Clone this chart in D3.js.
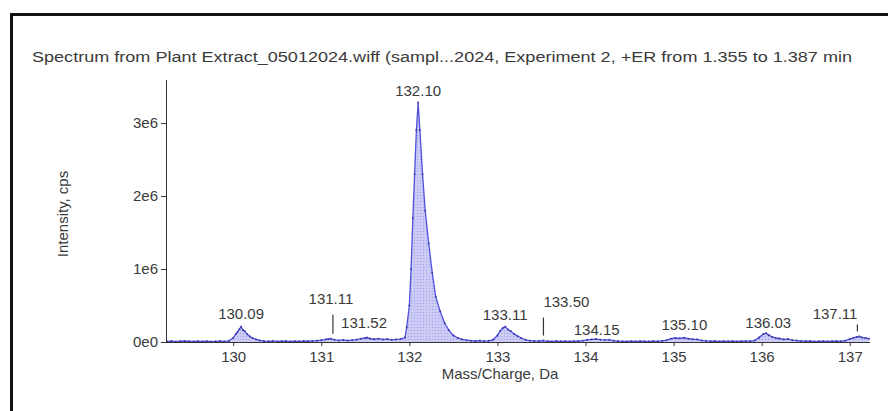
<!DOCTYPE html>
<html>
<head>
<meta charset="utf-8">
<script src="https://cdn.jsdelivr.net/npm/d3@7"></script>
<style>
    body { margin: 0; background: #fff; }
    svg { display: block; font-family: 'Liberation Sans', Arial, sans-serif; }
</style>
</head>
<body>
<svg></svg>
<script>

/*
*   Spectrum data (m/z in Da, intensity in cps)
*/

const massCharge = [
    129.25, 129.30, 129.35, 129.40, 129.45, 129.50, 129.55, 129.60, 129.65, 129.70,
    129.75, 129.80, 129.85, 129.90, 129.95, 130.00, 130.03, 130.05, 130.07, 130.09,
    130.11, 130.13, 130.16, 130.19, 130.22, 130.26, 130.30, 130.35, 130.40, 130.45,
    130.50, 130.55, 130.60, 130.65, 130.70, 130.75, 130.80, 130.85, 130.90, 130.95,
    131.00, 131.05, 131.08, 131.11, 131.15, 131.20, 131.25, 131.30, 131.35, 131.40,
    131.45, 131.50, 131.52, 131.55, 131.60, 131.65, 131.70, 131.75, 131.80, 131.85,
    131.90, 131.95, 131.97, 132.00, 132.02, 132.04, 132.06, 132.08, 132.10, 132.12,
    132.15, 132.18, 132.22, 132.26, 132.30, 132.35, 132.40, 132.45, 132.50, 132.55,
    132.60, 132.65, 132.70, 132.75, 132.80, 132.85, 132.90, 132.95, 133.00, 133.03,
    133.06, 133.09, 133.12, 133.15, 133.19, 133.23, 133.27, 133.32, 133.37, 133.42,
    133.47, 133.52, 133.57, 133.62, 133.67, 133.72, 133.77, 133.82, 133.87, 133.92,
    133.97, 134.02, 134.07, 134.12, 134.17, 134.22, 134.27, 134.32, 134.37, 134.42,
    134.47, 134.52, 134.57, 134.62, 134.67, 134.72, 134.77, 134.82, 134.87, 134.92,
    134.97, 135.02, 135.07, 135.12, 135.17, 135.22, 135.27, 135.32, 135.37, 135.42,
    135.47, 135.52, 135.57, 135.62, 135.67, 135.72, 135.77, 135.82, 135.87, 135.92,
    135.97, 136.02, 136.05, 136.08, 136.12, 136.16, 136.20, 136.25, 136.30, 136.35,
    136.40, 136.45, 136.50, 136.55, 136.60, 136.65, 136.70, 136.75, 136.80, 136.85,
    136.90, 136.95, 137.00, 137.04, 137.08, 137.11, 137.14, 137.18, 137.22
]

const intensity = [
    8000, 12000, 6000, 10000, 14000, 9000, 7000, 11000, 8000, 10000,
    6000, 9000, 12000, 8000, 15000, 55000, 110000, 140000, 175000, 210000,
    165000, 150000, 105000, 75000, 55000, 35000, 22000, 12000, 9000, 14000,
    8000, 10000, 12000, 7000, 11000, 9000, 13000, 10000, 15000, 18000,
    25000, 35000, 42000, 45000, 30000, 22000, 28000, 20000, 25000, 32000,
    45000, 55000, 60000, 48000, 38000, 45000, 35000, 40000, 30000, 35000,
    40000, 60000, 200000, 500000, 1000000, 1700000, 2300000, 2900000, 3280000, 2900000,
    2300000, 1800000, 1350000, 950000, 620000, 420000, 260000, 160000, 90000, 55000,
    35000, 25000, 18000, 14000, 20000, 12000, 16000, 30000, 90000, 150000,
    190000, 210000, 170000, 150000, 110000, 80000, 55000, 30000, 18000, 12000,
    15000, 20000, 10000, 8000, 12000, 9000, 11000, 7000, 10000, 12000,
    18000, 30000, 35000, 40000, 32000, 28000, 30000, 18000, 12000, 9000,
    8000, 11000, 7000, 10000, 9000, 8000, 12000, 9000, 14000, 25000,
    45000, 55000, 50000, 58000, 45000, 38000, 35000, 22000, 15000, 10000,
    12000, 8000, 11000, 9000, 12000, 8000, 10000, 13000, 11000, 20000,
    60000, 110000, 120000, 95000, 70000, 55000, 48000, 35000, 40000, 25000,
    20000, 14000, 10000, 12000, 8000, 9000, 11000, 7000, 10000, 12000,
    9000, 18000, 40000, 55000, 70000, 75000, 60000, 55000, 45000
]

const peakLabels = ['130.09', '131.11', '131.52', '132.10', '133.11', '133.50', '134.15', '135.10', '136.03', '137.11']
const peakMz = [130.09, 131.11, 131.52, 132.10, 133.11, 133.50, 134.15, 135.10, 136.03, 137.11]

const xTicks = [130, 131, 132, 133, 134, 135, 136, 137]
const yTicks = [0, 1e6, 2e6, 3e6]
const yTickLabels = ['0e0', '1e6', '2e6', '3e6']

const TITLE = 'Spectrum from Plant Extract_05012024.wiff (sampl...2024, Experiment 2, +ER from 1.355 to 1.387 min'


/*
*   Constants
*/

const CANVAS_WIDTH = 888
const CANVAS_HEIGHT = 411
const PLOT = { left: 166, right: 870, top: 80, bottom: 342 }
const TEXT_COLOR = '#3a3a3a'
const LINE_COLOR = '#5050dc'
const FILL_COLOR = '#cbcbf6'
const FONT_SIZE = 15

// how each peak label sits relative to its peak: lift, horizontal nudge, anchor, leader line
const LABEL_LAYOUT = [
    { lift: 8, dx: 0, anchor: 'middle', leader: 0 },
    { lift: 35, dx: 0, anchor: 'middle', leader: 19 },
    { lift: 10, dx: -3, anchor: 'middle', leader: 0 },
    { lift: 7, dx: 0, anchor: 'middle', leader: 0 },
    { lift: 7, dx: -2, anchor: 'middle', leader: 0 },
    { lift: 34, dx: 2, anchor: 'start', leader: 18 },
    { lift: 4, dx: -2, anchor: 'middle', leader: 0 },
    { lift: 8, dx: 2, anchor: 'middle', leader: 0 },
    { lift: 5, dx: 4, anchor: 'middle', leader: 0 },
    { lift: 18, dx: -2, anchor: 'end', leader: 7 },
]


/*
*   Scales
*/

const x = d3.scaleLinear()
.domain([129.2372, 137.2304])
.range([PLOT.left, PLOT.right])

const y = d3.scaleLinear()
.domain([0, 3.59e6])
.range([PLOT.bottom, PLOT.top])

const spectrum = massCharge.map((m, i) => ({ m, v: intensity[i] }))

const peakHeight = mz => {
    const near = spectrum.filter(d => Math.abs(d.m - mz) < 0.04)
    return d3.max(near, d => d.v)
}


/*
*   SVG setup
*/

const svg = d3.select('svg')
.attr('width', CANVAS_WIDTH)
.attr('height', CANVAS_HEIGHT)

const defs = svg.append('defs')

const pattern = defs.append('pattern')
.attr('id', 'dots')
.attr('width', 3)
.attr('height', 3)
.attr('patternUnits', 'userSpaceOnUse')

pattern.append('rect')
.attr('width', 3)
.attr('height', 3)
.attr('fill', FILL_COLOR)

pattern.append('rect')
.attr('width', 1)
.attr('height', 1)
.attr('fill', '#a0a0e8')

defs.append('clipPath')
.attr('id', 'plot-clip')
.append('rect')
.attr('x', PLOT.left)
.attr('y', 0)
.attr('width', PLOT.right - PLOT.left + 1)
.attr('height', PLOT.bottom + 1)

// outer frame, cropped by the window on the right and bottom
svg.append('rect')
.attr('x', 11.5)
.attr('y', 14.5)
.attr('width', 900)
.attr('height', 420)
.attr('fill', 'none')
.attr('stroke', '#111')
.attr('stroke-width', 3)


/*
*   Title
*/

svg.append('text')
.attr('x', 32)
.attr('y', 62)
.attr('textLength', 820)
.attr('lengthAdjust', 'spacingAndGlyphs')
.attr('font-size', 14)
.attr('fill', TEXT_COLOR)
.text(TITLE)


/*
*   Spectrum trace
*/

const plot = svg.append('g')
.attr('clip-path', 'url(#plot-clip)')

plot.append('path')
.datum(spectrum)
.attr('d', d3.area().x(d => x(d.m)).y0(y(0)).y1(d => y(d.v)))
.attr('fill', 'url(#dots)')

plot.append('path')
.datum(spectrum)
.attr('d', d3.line().x(d => x(d.m)).y(d => y(d.v)))
.attr('fill', 'none')
.attr('stroke', LINE_COLOR)
.attr('stroke-width', 1.3)

plot.selectAll('circle.pt')
.data(spectrum)
.join('circle')
.attr('class', 'pt')
.attr('cx', d => x(d.m))
.attr('cy', d => y(d.v))
.attr('r', 1)
.attr('fill', '#3a3aa8')


/*
*   Axes
*/

const xAxis = svg.append('g')
.attr('transform', `translate(0,${PLOT.bottom})`)
.call(d3.axisBottom(x).tickValues(xTicks).tickFormat(d3.format('d')).tickSize(4).tickPadding(5))

const yAxis = svg.append('g')
.attr('transform', `translate(${PLOT.left},0)`)
.call(d3.axisLeft(y).tickValues(yTicks).tickFormat((d, i) => yTickLabels[i]).tickSize(5).tickPadding(3))

xAxis.select('.domain').attr('d', `M${PLOT.left},0.5H${PLOT.right}`)
yAxis.select('.domain').attr('d', `M0.5,${PLOT.top}V${PLOT.bottom}`)

;[xAxis, yAxis].forEach(a => {
    a.selectAll('.domain, .tick line').attr('stroke', '#333')
    a.selectAll('text')
    .attr('fill', TEXT_COLOR)
    .attr('font-size', FONT_SIZE)
    .attr('font-family', "'Liberation Sans', Arial, sans-serif")
})

svg.append('text')
.attr('x', 500)
.attr('y', 379)
.attr('text-anchor', 'middle')
.attr('font-size', FONT_SIZE)
.attr('fill', TEXT_COLOR)
.text('Mass/Charge, Da')

svg.append('text')
.attr('transform', 'translate(68,214) rotate(-90)')
.attr('text-anchor', 'middle')
.attr('font-size', FONT_SIZE)
.attr('fill', TEXT_COLOR)
.text('Intensity, cps')


/*
*   Peak labels
*/

const labels = peakLabels.map((t, i) => ({
    text: t,
    px: x(peakMz[i]),
    py: y(peakHeight(peakMz[i])),
    ...LABEL_LAYOUT[i],
}))

svg.selectAll('line.leader')
.data(labels.filter(d => d.leader))
.join('line')
.attr('class', 'leader')
.attr('x1', d => d.px + (d.anchor === 'end' ? -2 : 2))
.attr('x2', d => d.px + (d.anchor === 'end' ? -2 : 2))
.attr('y1', d => d.py - 5)
.attr('y2', d => d.py - 5 - d.leader)
.attr('stroke', '#333')
.attr('stroke-width', 1.2)

svg.selectAll('text.peak')
.data(labels)
.join('text')
.attr('class', 'peak')
.attr('x', d => d.px + d.dx)
.attr('y', d => d.py - d.lift)
.attr('text-anchor', d => d.anchor)
.attr('font-size', FONT_SIZE)
.attr('fill', TEXT_COLOR)
.text(d => d.text)

</script>
</body>
</html>
